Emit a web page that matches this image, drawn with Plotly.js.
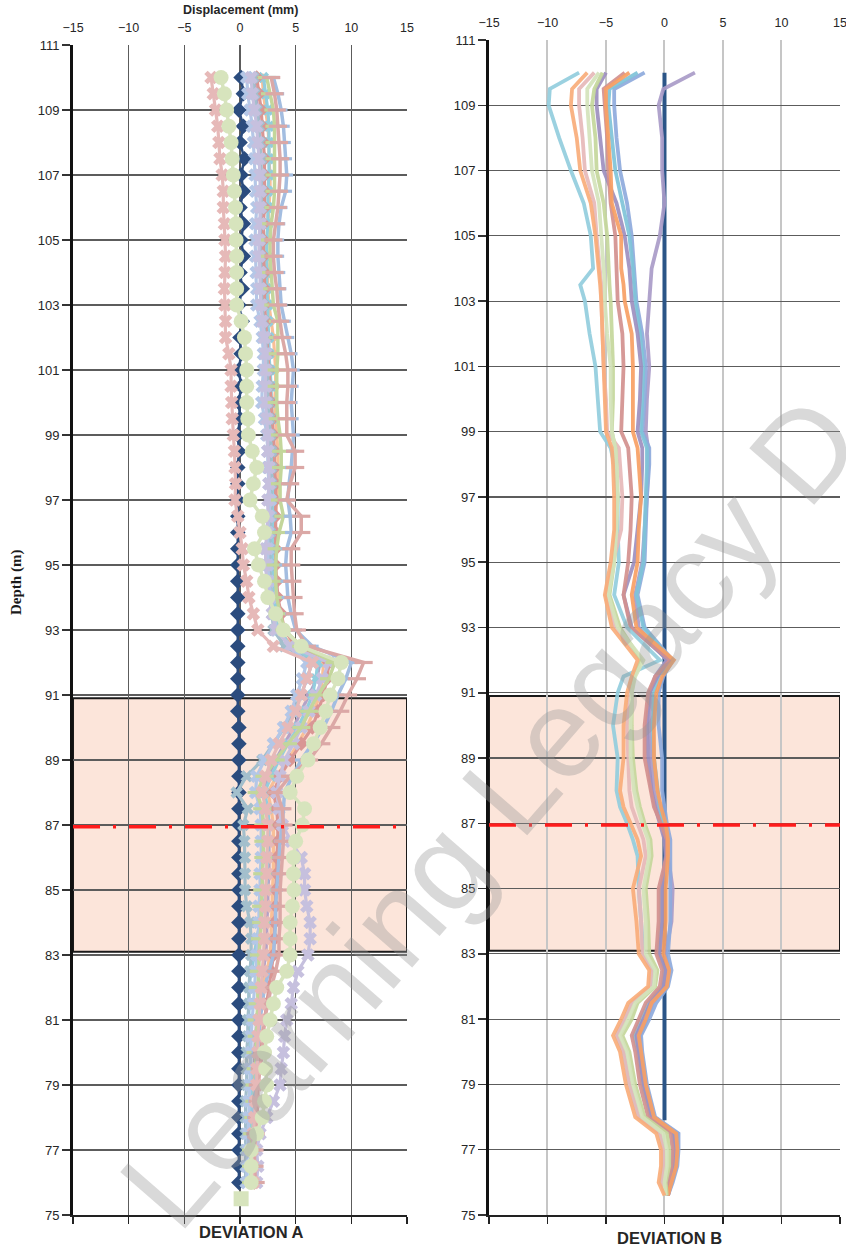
<!DOCTYPE html>
<html>
<head>
<meta charset="utf-8">
<script src="https://cdn.plot.ly/plotly-3.0.1.min.js"></script>
<style>
  html, body { margin: 0; padding: 0; background: #fff; }
  #chart { width: 846px; height: 1250px; }
</style>
</head>
<body>
<div id="chart"></div>
<script>
// ---------- Deviation A : readings every 0.5 m (depth in m, displacement in mm) ----------
const DEPTH_A = [
  110,109.5,109,108.5,108,107.5,107,106.5,106,105.5,
  105,104.5,104,103.5,103,102.5,102,101.5,101,100.5,
  100,99.5,99,98.5,98,97.5,97,96.5,96,95.5,
  95,94.5,94,93.5,93,92.5,92,91.5,91,90.5,
  90,89.5,89,88.5,88,87.5,87,86.5,86,85.5,
  85,84.5,84,83.5,83,82.5,82,81.5,81,80.5,
  80,79.5,79,78.5,78,77.5,77,76.5,76
];
const A_BASE = [
  0.1,0.3,-0.1,0.3,0.0,0.4,0.1,0.3,0.0,0.3,
  0.1,0.3,0.0,0.2,-0.1,0.2,0.0,0.1,-0.1,0.1,
  -0.1,0.0,-0.2,-0.1,-0.2,-0.2,-0.2,-0.2,-0.2,-0.2,
  -0.2,-0.2,-0.2,-0.2,-0.2,-0.2,-0.2,-0.2,-0.2,-0.2,
  -0.1,-0.1,-0.1,-0.1,-0.1,-0.1,-0.1,-0.1,-0.1,-0.1,
  -0.1,-0.1,-0.1,-0.1,-0.1,-0.1,-0.1,-0.1,-0.1,-0.1,
  -0.1,-0.1,-0.1,-0.1,-0.1,-0.1,-0.1,-0.1,-0.1
];
const A_PURPLE = [
  1.3,1.4,1.6,1.7,1.8,1.8,1.9,1.9,1.9,1.9,
  1.9,1.9,2.0,2.0,2.0,2.1,2.3,2.3,2.4,2.4,
  2.4,2.5,2.6,2.7,2.7,2.7,2.6,2.6,2.5,2.5,
  2.5,2.5,2.6,2.9,3.1,4.0,7.2,6.9,6.2,5.5,
  4.8,4.0,3.2,2.5,2.1,2.4,2.6,2.6,2.6,2.6,
  2.5,2.5,2.4,2.4,2.3,2.1,1.9,1.7,1.5,1.4,
  1.3,1.3,1.2,1.2,1.1,1.0,1.0,1.0,1.0
];
const A_ORANGE = [
  2.0,2.1,2.3,2.5,2.6,2.6,2.7,2.7,2.6,2.5,
  2.4,2.4,2.5,2.5,2.6,2.8,3.0,3.1,3.2,3.2,
  3.1,3.2,3.3,3.4,3.4,3.4,3.3,3.2,3.0,2.9,
  2.8,2.8,2.9,3.1,3.4,4.8,7.5,7.4,7.2,6.6,
  6.0,5.2,4.3,3.3,2.5,2.8,3.0,3.0,3.0,3.0,
  2.9,2.9,2.8,2.8,2.7,2.4,2.0,1.9,1.8,1.8,
  1.7,1.6,1.6,1.5,1.4,1.4,1.3,1.4,1.5
];
const A_TEAL = [
  2.1,2.3,2.5,2.6,2.6,2.6,2.6,2.5,2.5,2.5,
  2.4,2.4,2.4,2.4,2.5,2.5,2.6,2.6,2.7,2.8,
  2.8,2.9,2.9,3.0,3.0,3.0,3.0,3.0,2.9,2.9,
  2.9,3.0,3.1,3.3,3.6,4.5,7.0,6.8,6.5,5.9,
  5.2,4.3,3.5,2.8,2.2,2.5,2.6,2.5,2.5,2.4,
  2.4,2.1,1.8,1.5,1.3,1.0,0.8,0.8,0.8,0.9,
  0.9,1.0,1.0,1.0,1.0,1.0,1.0,0.9,0.9
];
const A_SALMON = [
  1.5,1.7,1.9,2.0,2.1,2.2,2.2,2.2,2.2,2.1,
  2.1,2.1,2.2,2.2,2.2,2.3,2.4,2.5,2.6,2.7,
  2.8,2.9,3.0,3.1,3.1,3.2,3.2,3.2,3.2,3.2,
  3.2,3.3,3.4,3.7,4.0,5.0,8.0,7.8,7.5,7.0,
  6.5,5.5,4.5,3.6,3.0,3.3,3.4,3.4,3.3,3.3,
  3.2,3.2,3.1,3.1,3.0,2.8,2.6,2.4,2.2,2.0,
  1.9,1.8,1.6,1.5,1.4,1.3,1.2,1.2,1.3
];
const A_GREYBLUE = [
  1.2,1.3,1.5,1.7,1.8,1.9,1.9,1.9,1.9,1.8,
  1.8,1.8,1.9,1.9,2.0,2.1,2.3,2.4,2.5,2.5,
  2.5,2.6,2.7,2.8,2.8,2.8,2.8,2.8,2.7,2.7,
  2.7,2.7,2.8,2.9,3.0,4.0,6.5,6.0,5.5,4.8,
  4.0,3.0,2.0,0.6,-0.3,0.7,0.3,0.4,0.45,0.45,
  0.45,0.6,0.9,1.0,1.0,0.9,0.8,0.8,0.7,0.7,
  0.6,0.6,0.6,0.5,0.5,0.5,0.5,0.5,0.5
];
const A_LIGHTBLUE = [
  0.6,0.7,0.9,1.1,1.2,1.3,1.35,1.4,1.5,1.4,
  1.35,1.4,1.45,1.5,1.5,1.8,2.0,2.1,2.1,2.0,
  1.95,2.2,2.4,2.5,2.5,2.6,2.7,2.6,2.5,2.5,
  2.5,2.6,2.8,3.0,3.3,4.5,6.0,5.6,5.1,4.6,
  3.9,3.0,2.2,1.5,1.4,1.8,1.9,1.9,1.9,1.8,
  1.8,1.7,1.7,1.6,1.5,1.4,1.3,1.2,1.1,1.0,
  1.0,0.9,0.9,0.8,0.8,0.7,0.7,0.6,0.6
];
const A_LAVENDER = [
  1.0,1.1,1.3,1.5,1.6,1.7,1.8,1.8,1.8,1.8,
  1.7,1.7,1.8,1.8,1.9,2.0,2.2,2.3,2.3,2.3,
  2.3,2.4,2.5,2.5,2.6,2.6,2.5,2.5,2.4,2.3,
  2.3,2.4,2.6,2.9,3.2,4.5,8.0,7.4,6.8,6.2,
  5.5,4.8,4.0,3.6,3.3,3.5,3.8,4.6,5.5,5.8,
  5.8,6.0,6.3,6.3,6.1,5.2,4.8,4.6,4.2,4.0,
  3.9,3.7,3.6,3.0,2.4,1.8,1.5,1.6,1.5
];
const A_GREENPLUS = [
  2.4,2.7,3.0,3.1,3.1,3.1,3.1,3.1,3.0,2.8,
  2.7,2.7,2.8,2.9,3.0,3.4,3.4,3.4,3.3,3.3,
  3.3,3.4,3.6,3.7,3.7,3.6,3.6,3.9,3.5,3.3,
  3.2,3.2,3.3,3.6,4.0,5.5,8.5,8.0,7.0,6.2,
  5.5,4.3,3.2,2.2,1.5,2.0,2.1,2.1,2.1,2.0,
  2.0,1.9,1.9,1.8,1.7,1.7,1.6,1.6,1.5,1.5,
  1.4,1.4,1.3,1.3,1.2,1.1,1.0,1.0,1.0
];
const A_BLUE = [
  3.0,3.4,3.7,3.9,4.0,4.1,4.2,4.1,3.7,3.5,
  3.4,3.4,3.5,3.6,3.7,4.0,4.3,4.6,4.8,4.7,
  4.6,4.7,4.8,4.7,4.6,4.4,4.3,4.5,4.6,4.2,
  4.1,4.2,4.3,4.6,5.0,6.5,10.0,9.5,8.8,8.2,
  7.5,6.5,5.5,4.7,4.0,3.9,3.8,3.6,3.5,3.4,
  3.3,3.2,3.2,3.1,3.0,2.6,2.2,2.0,1.8,1.7,
  1.6,1.5,1.4,1.3,1.2,1.2,1.1,1.1,1.1
];
const A_ROSE = [
  2.8,3.1,3.3,3.4,3.5,3.6,3.6,3.5,3.4,3.2,
  3.0,3.0,3.1,3.3,3.4,3.6,3.8,4.1,4.3,4.3,
  4.2,4.2,4.2,4.95,4.95,4.5,4.2,5.5,5.5,4.6,
  4.6,4.7,4.8,4.9,5.1,6.0,11.1,10.5,9.7,9.0,
  8.2,7.3,6.2,4.5,3.3,3.8,3.9,3.9,3.8,3.7,
  3.6,3.6,3.6,3.5,3.5,3.2,2.8,2.5,2.2,2.1,
  2.0,1.8,1.6,1.6,1.5,1.4,1.3,1.3,1.4
];
const A_PINK = [
  -2.6,-2.4,-2.2,-2.0,-1.9,-1.8,-1.6,-1.5,-1.5,-1.4,
  -1.35,-1.3,-1.35,-1.4,-1.35,-1.3,-1.3,-1.0,-0.8,-0.8,
  -0.75,-0.7,-0.6,-0.5,-0.45,-0.4,-0.45,-0.2,0.0,0.2,
  0.3,0.6,0.8,1.2,1.6,3.0,6.5,6.0,5.5,5.0,
  4.3,3.5,2.8,2.3,2.0,2.3,2.5,2.5,2.4,2.4,
  2.3,2.3,2.2,2.2,2.1,2.0,1.9,1.8,1.7,1.6,
  1.6,1.5,1.5,1.4,1.3,1.2,1.1,1.1,1.2
];
const A_GREEN = [
  -1.7,-1.4,-1.2,-1.0,-0.8,-0.7,-0.6,-0.5,-0.4,-0.35,
  -0.35,-0.3,-0.3,-0.3,-0.3,0.1,0.4,0.5,0.6,0.6,
  0.6,0.7,0.75,1.1,1.5,1.2,0.9,2.0,2.2,1.3,
  1.65,2.2,2.5,3.2,3.9,5.5,9.1,8.8,8.1,7.7,
  7.2,6.6,6.1,5.1,4.5,5.8,5.6,5.0,4.8,4.8,
  4.85,4.7,4.5,4.5,4.5,4.2,3.3,3.0,2.7,2.4,
  2.2,2.3,2.4,2.2,2.0,1.5,1.0,1.0,1.0
];
// last reading of the pale-green set, plotted as a square
const A_GREEN_TIP_DEPTH = [75.5];
const A_GREEN_TIP = [0.1];

// ---------- Deviation B ----------
const DEPTH_B = [
  110,109.5,109,108,107,106,105,104,103.5,103,
  102,101,100,99,98.5,98,97,96,95,94,
  93,92,91.5,91,90,89,88,87.5,87,86.5,
  86,85,84,83,82.5,82,81.5,81,80.5,80,
  79,78,77.5,77,76.5,76,75.6
];
const B_BASE_DEPTH = [110, 77.9];
const B_BASE = [0, 0];
const B_TEAL = [
  -7.3,-9.8,-9.9,-9.0,-8.0,-6.9,-6.3,-6.1,-7.2,-6.8,
  -6.4,-5.9,-5.7,-5.5,-4.6,-4.3,-4.0,-4.0,-3.9,-4.3,
  -3.2,-0.4,-3.5,-4.0,-4.4,-4.0,-4.1,-3.8,-3.2,-2.7,
  -2.3,-2.2,-2.0,-1.8,-1.0,-1.2,-2.8,-3.4,-4.1,-3.5,
  -3.0,-2.2,-0.4,-0.1,-0.1,-0.3,0.1
];
const B_ORANGE = [
  -6.6,-7.9,-8.0,-7.5,-7.2,-6.3,-5.9,-5.6,-5.5,-5.4,
  -5.3,-5.2,-5.1,-5.0,-4.5,-4.4,-4.3,-4.3,-4.6,-5.1,
  -4.5,-2.3,-2.8,-3.2,-3.5,-3.5,-3.8,-3.5,-2.9,-2.3,
  -2.0,-2.7,-2.4,-2.2,-1.3,-1.4,-3.1,-3.7,-4.4,-3.8,
  -3.3,-2.5,-0.7,-0.3,-0.3,-0.5,0.0
];
const B_PINK = [
  -6.0,-7.3,-7.3,-7.0,-6.8,-6.0,-5.8,-5.5,-5.4,-5.4,
  -5.3,-5.2,-5.0,-4.9,-3.9,-3.8,-3.6,-3.7,-4.4,-5.0,
  -4.2,-2.0,-2.6,-3.0,-3.2,-3.1,-3.0,-2.8,-2.3,-1.8,
  -1.6,-2.2,-2.0,-1.9,-1.1,-1.2,-2.8,-3.4,-4.1,-3.5,
  -3.0,-2.2,-0.4,-0.1,0.0,-0.2,0.1
];
const B_PALEGREEN = [
  -5.6,-6.6,-6.6,-6.4,-6.2,-5.6,-5.4,-5.2,-5.1,-5.1,
  -4.9,-4.6,-4.6,-4.5,-4.2,-4.1,-4.0,-4.1,-4.3,-4.8,
  -4.0,-1.8,-2.5,-2.8,-2.9,-2.9,-2.6,-2.3,-1.9,-1.4,
  -1.3,-1.8,-1.6,-1.6,-0.8,-0.9,-2.5,-3.1,-3.8,-3.2,
  -2.7,-1.9,-0.1,0.2,0.2,0.0,0.1
];
const B_GREEN = [
  -5.3,-6.0,-6.2,-5.9,-5.8,-5.2,-4.9,-4.8,-4.7,-4.6,
  -4.5,-4.4,-4.4,-4.5,-4.2,-4.1,-4.0,-4.2,-4.3,-4.7,
  -3.8,-2.0,-2.6,-2.8,-2.8,-2.7,-2.4,-2.1,-1.7,-1.2,
  -1.1,-1.6,-1.4,-1.3,-0.6,-0.8,-2.3,-2.8,-3.6,-3.0,
  -2.5,-1.7,0.2,0.4,0.4,0.1,0.2
];
const B_PURPLE = [
  -5.0,-5.8,-5.8,-5.5,-5.2,-4.1,-3.4,-3.0,-2.9,-2.8,
  -2.3,-2.0,-2.1,-2.3,-1.9,-1.9,-2.0,-2.3,-2.6,-3.5,
  -2.8,0.3,-0.6,-1.3,-1.5,-1.4,-1.1,-0.8,-0.4,0.0,
  0.1,-0.2,-0.2,-0.4,0.1,-0.1,-1.2,-1.8,-2.4,-2.2,
  -1.8,-1.1,0.8,0.9,0.8,0.5,0.3
];
const B_SALMON = [
  -3.4,-5.2,-5.1,-4.9,-4.8,-4.6,-4.2,-4.1,-4.0,-4.0,
  -3.6,-3.5,-3.6,-3.7,-3.1,-3.0,-2.8,-2.9,-3.1,-3.5,
  -2.9,0.5,-0.8,-1.4,-1.7,-1.7,-1.2,-0.9,-0.3,0.2,
  0.2,-0.5,-0.5,-0.7,-0.2,-0.4,-1.6,-2.2,-2.8,-2.5,
  -2.1,-1.4,0.5,0.7,0.6,0.3,0.2
];
const B_AMBER = [
  -3.0,-5.0,-5.0,-4.8,-4.6,-4.5,-3.7,-3.7,-3.5,-3.4,
  -2.8,-2.7,-2.7,-2.7,-2.3,-2.2,-2.0,-2.2,-2.3,-2.8,
  -2.4,0.8,-0.2,-0.7,-0.9,-0.9,-0.6,-0.3,0.1,0.3,
  0.3,0.1,0.1,-0.1,0.4,0.2,-1.1,-1.6,-2.2,-2.0,
  -1.6,-0.9,1.0,1.1,1.0,0.6,0.3
];
const B_CYAN = [
  -2.3,-4.7,-4.8,-4.5,-4.2,-3.6,-3.0,-2.7,-2.6,-2.5,
  -2.1,-1.8,-1.9,-2.0,-1.5,-1.5,-1.6,-1.7,-1.8,-2.4,
  -1.8,0.6,-0.5,-0.9,-1.0,-0.9,-0.6,-0.4,-0.1,0.2,
  0.2,-0.3,-0.3,-0.5,0.0,-0.2,-1.4,-2.0,-2.6,-2.3,
  -1.9,-1.2,0.7,0.8,0.7,0.4,0.2
];
const B_PERIWINKLE = [
  -1.7,-4.3,-4.3,-4.1,-3.8,-3.2,-2.8,-2.6,-2.5,-2.4,
  -1.9,-1.6,-1.7,-1.9,-1.3,-1.3,-1.5,-1.6,-1.7,-2.3,
  -1.7,0.7,-0.1,-0.5,-0.5,-0.2,-0.2,0.0,0.2,0.5,
  0.5,0.5,0.5,0.3,0.6,0.3,-0.7,-1.3,-2.0,-1.9,
  -1.5,-0.8,1.2,1.2,1.1,0.7,0.3
];
const B_LAVENDER = [
  2.6,-0.1,-0.5,-0.2,-0.2,0.0,-0.4,-1.1,-1.2,-1.3,
  -1.5,-1.3,-1.5,-1.6,-1.4,-1.4,-1.5,-1.7,-1.9,-2.5,
  -2.2,0.2,-0.8,-1.2,-1.3,-1.1,-0.9,-0.6,-0.2,0.2,
  0.3,0.7,0.6,0.1,0.3,0.0,-1.0,-1.5,-2.1,-2.0,
  -1.6,-0.9,1.1,1.1,1.0,0.6,0.3
];

// Zone of interest and marked level (m)
const ZONE_TOP = 90.9;
const ZONE_BOTTOM = 83.1;
const MARK_LEVEL = 86.95;

const X_TICKS = [-15, -10, -5, 0, 5, 10, 15];
const DEPTH_TICKS = [75,77,79,81,83,85,87,89,91,93,95,97,99,101,103,105,107,109,111];

// ---------- traces ----------
function markerTrace(vals, depth, color, symbol, size, lineW, extra) {
  const lineSymbol = symbol.indexOf('line-') === 0;
  return Object.assign({
    type: 'scatter', mode: 'lines+markers',
    x: vals, y: depth, xaxis: 'x', yaxis: 'y',
    line: { color: color, width: lineW },
    marker: {
      symbol: symbol, size: size, color: color,
      line: { color: color, width: lineSymbol ? 3.2 : 0 }
    },
    showlegend: false, hoverinfo: 'skip'
  }, extra || {});
}
function lineTrace(vals, color) {
  return {
    type: 'scatter', mode: 'lines',
    x: vals, y: DEPTH_B, xaxis: 'x2', yaxis: 'y2',
    line: { color: color, width: 3.8 },
    opacity: 0.92,
    showlegend: false, hoverinfo: 'skip'
  };
}

const traces = [
  markerTrace(A_BASE, DEPTH_A, '#2b4c7e', 'diamond', 12, 2.5),
  markerTrace(A_PURPLE, DEPTH_A, '#b3a2c7', 'square', 7, 3.2),
  markerTrace(A_ORANGE, DEPTH_A, '#f8bf97', 'circle', 8, 3.2),
  markerTrace(A_TEAL, DEPTH_A, '#93cddd', 'x', 10, 3.2),
  markerTrace(A_SALMON, DEPTH_A, '#d99694', 'diamond', 11, 3.2),
  markerTrace(A_GREYBLUE, DEPTH_A, '#a3bfcc', 'x', 11, 3.2),
  markerTrace(A_LIGHTBLUE, DEPTH_A, '#b4c7e7', 'x', 12, 3.2),
  markerTrace(A_LAVENDER, DEPTH_A, '#c6c0de', 'x', 12, 3.2),
  markerTrace(A_GREENPLUS, DEPTH_A, '#c3d69b', 'line-ew-open', 13, 3.5),
  markerTrace(A_BLUE, DEPTH_A, '#a3bde0', 'line-ew-open', 9, 3.5),
  markerTrace(A_ROSE, DEPTH_A, '#dba8a6', 'line-ew-open', 13, 3.5),
  markerTrace(A_PINK, DEPTH_A, '#e6b9b8', 'x', 12, 3.2),
  markerTrace(A_GREEN, DEPTH_A, '#d7e4bd', 'circle', 15, 3.5),
  markerTrace(A_GREEN_TIP, A_GREEN_TIP_DEPTH, '#d7e4bd', 'square', 15, 3, { mode: 'markers' }),

  {
    type: 'scatter', mode: 'lines', x: B_BASE, y: B_BASE_DEPTH,
    xaxis: 'x2', yaxis: 'y2', line: { color: '#2b5587', width: 4 },
    showlegend: false, hoverinfo: 'skip'
  },
  lineTrace(B_LAVENDER, '#a99bc8'),
  lineTrace(B_PERIWINKLE, '#8eaadc'),
  lineTrace(B_CYAN, '#7fc3d8'),
  lineTrace(B_PURPLE, '#9d8fbf'),
  lineTrace(B_SALMON, '#d3908e'),
  lineTrace(B_AMBER, '#f7a064'),
  lineTrace(B_TEAL, '#93cddd'),
  lineTrace(B_PINK, '#e6b9b8'),
  lineTrace(B_GREEN, '#c4d79b'),
  lineTrace(B_PALEGREEN, '#d4e3bb'),
  lineTrace(B_ORANGE, '#f8ad7a'),

  // carriers for the bottom axis lines of each panel
  { type: 'scatter', mode: 'markers', x: [-15, 15], y: [75, 75], xaxis: 'x3', yaxis: 'y',
    marker: { opacity: 0 }, showlegend: false, hoverinfo: 'skip' },
  { type: 'scatter', mode: 'markers', x: [-15, 15], y: [75, 75], xaxis: 'x4', yaxis: 'y2',
    marker: { opacity: 0 }, showlegend: false, hoverinfo: 'skip' }
];

// ---------- layout ----------
const tickFont = { family: 'Liberation Sans, Arial, sans-serif', size: 12.5, color: '#262626' };

function topAxis(domain, anchor, gridColor, gridWidth) {
  return {
    domain: domain, anchor: anchor, side: 'top',
    range: [-15, 15], tickmode: 'array', tickvals: X_TICKS,
    ticks: '', ticklabelstandoff: 10, ticklabeloverflow: 'allow',
    showline: false, zeroline: false,
    showgrid: true, gridcolor: gridColor, gridwidth: gridWidth,
    tickfont: tickFont, fixedrange: true
  };
}
function bottomAxis(over, anchor) {
  return {
    overlaying: over, anchor: anchor, side: 'bottom',
    range: [-15, 15], tickmode: 'array', tickvals: X_TICKS,
    ticks: 'outside', ticklen: 7, tickwidth: 1.5, tickcolor: '#222',
    showticklabels: false, showgrid: false, zeroline: false,
    showline: true, linecolor: '#222', linewidth: 2
  };
}
function depthAxis(domain, anchor) {
  return {
    domain: domain, anchor: anchor,
    range: [75, 111], tickmode: 'array', tickvals: DEPTH_TICKS,
    ticks: 'outside', ticklen: 8, tickwidth: 1.5, tickcolor: '#333',
    showline: true, linecolor: '#111', linewidth: 3,
    showgrid: true, gridcolor: '#5c5c5c', gridwidth: 1.2,
    zeroline: false, tickfont: Object.assign({}, tickFont, { size: 13 }), fixedrange: true
  };
}

function zone(xref, yref) {
  return {
    type: 'rect', xref: xref, yref: yref, x0: -15, x1: 15,
    y0: ZONE_BOTTOM, y1: ZONE_TOP, fillcolor: '#fce5da',
    line: { color: '#1a1a1a', width: 2 }, layer: 'below'
  };
}
function markLine(xref, yref) {
  return {
    type: 'line', xref: xref, yref: yref, x0: -15, x1: 15,
    y0: MARK_LEVEL, y1: MARK_LEVEL,
    line: { color: '#ff1c1c', width: 3.5, dash: '27px,13px,3px,13px' },
    layer: 'above'
  };
}

const layout = {
  width: 846, height: 1250,
  margin: { l: 0, r: 0, t: 0, b: 0 },
  paper_bgcolor: '#ffffff', plot_bgcolor: '#ffffff',
  font: { family: 'Liberation Sans, Arial, sans-serif', color: '#262626' },
  showlegend: false,
  xaxis: topAxis([0.0863, 0.4811], 'y', '#5c5c5c', 1.2),
  yaxis: depthAxis([0.028, 0.964], 'x'),
  xaxis2: topAxis([0.578, 0.9929], 'y2', '#c6c6c6', 2),
  yaxis2: depthAxis([0.028, 0.968], 'x2'),
  xaxis3: bottomAxis('x', 'y'),
  xaxis4: bottomAxis('x2', 'y2'),
  shapes: [zone('x', 'y'), zone('x2', 'y2'), markLine('x', 'y'), markLine('x2', 'y2')],
  annotations: [
    { text: '<b>Displacement (mm)</b>', xref: 'paper', yref: 'paper',
      x: 240 / 846, y: 1 - 10 / 1250, xanchor: 'center', yanchor: 'middle',
      showarrow: false, font: { size: 12.5, color: '#262626' } },
    { text: '<b>Depth (m)</b>', xref: 'paper', yref: 'paper',
      x: 17 / 846, y: 1 - 583 / 1250, textangle: -90,
      xanchor: 'center', yanchor: 'middle', showarrow: false,
      font: { family: 'Liberation Serif, Times New Roman, serif', size: 15, color: '#1a1a1a' } },
    { text: '<b>DEVIATION A</b>', xref: 'paper', yref: 'paper',
      x: 251 / 846, y: 1 - 1232 / 1250, xanchor: 'center', yanchor: 'middle',
      showarrow: false, font: { size: 16.5, color: '#262626' } },
    { text: '<b>DEVIATION B</b>', xref: 'paper', yref: 'paper',
      x: 669 / 846, y: 1 - 1238 / 1250, xanchor: 'center', yanchor: 'middle',
      showarrow: false, font: { size: 16.5, color: '#262626' } },
    { text: 'Learning Legacy D', xref: 'paper', yref: 'paper',
      x: 489 / 846, y: 1 - 812 / 1250, xanchor: 'center', yanchor: 'middle',
      textangle: -49, showarrow: false,
      font: { family: 'Liberation Sans, Arial, sans-serif', size: 125, color: 'rgba(150,150,150,0.36)' } }
  ]
};

Plotly.newPlot('chart', traces, layout, { staticPlot: true, displayModeBar: false });
</script>
</body>
</html>
